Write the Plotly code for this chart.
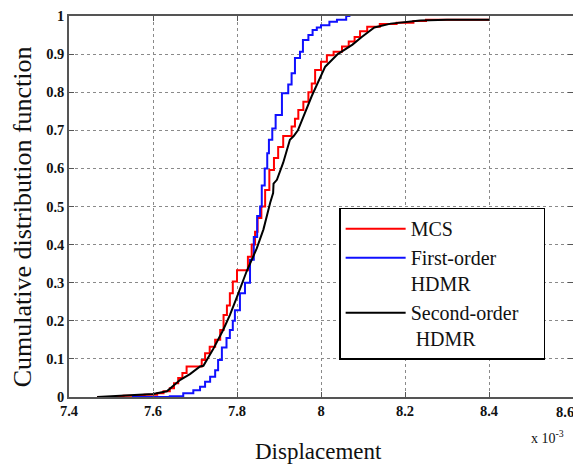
import plotly.graph_objects as go

# Displacement values are in units of 1e-3
mcs_x = [7.467, 7.53, 7.58, 7.61, 7.625, 7.64, 7.65, 7.66, 7.67, 7.68, 7.716, 7.724, 7.735,
         7.748, 7.76, 7.768, 7.776, 7.783, 7.79, 7.80, 7.826, 7.835, 7.843, 7.849, 7.858,
         7.867, 7.877, 7.888, 7.898, 7.91, 7.93, 7.938, 7.946, 7.958, 7.97, 7.978, 7.986,
         8.0, 8.014, 8.03, 8.05, 8.066, 8.08, 8.093, 8.11, 8.14, 8.18, 8.22, 8.25, 8.40]
mcs_cdf = [0.0, 0.003, 0.006, 0.010, 0.015, 0.023, 0.036, 0.050, 0.063, 0.080, 0.097, 0.115,
           0.132, 0.150, 0.176, 0.215, 0.240, 0.272, 0.303, 0.333, 0.368, 0.400, 0.434, 0.470,
           0.500, 0.543, 0.596, 0.627, 0.656, 0.685, 0.710, 0.730, 0.753, 0.775, 0.800, 0.823,
           0.858, 0.880, 0.897, 0.906, 0.920, 0.933, 0.945, 0.960, 0.972, 0.979, 0.982, 0.987,
           0.990, 0.990]

first_x = [7.55, 7.64, 7.672, 7.696, 7.712, 7.724, 7.736, 7.748, 7.755, 7.764, 7.775, 7.783,
           7.79, 7.795, 7.807, 7.819, 7.831, 7.84, 7.848, 7.855, 7.859, 7.866, 7.872, 7.876,
           7.884, 7.892, 7.907, 7.922, 7.93, 7.938, 7.95, 7.957, 7.97, 7.98, 7.99, 8.0, 8.02,
           8.038, 8.06, 8.07]
first_cdf = [0.0, 0.002, 0.010, 0.018, 0.027, 0.040, 0.053, 0.070, 0.097, 0.130, 0.155, 0.176,
             0.200, 0.228, 0.272, 0.300, 0.360, 0.420, 0.475, 0.500, 0.555, 0.600, 0.640, 0.675,
             0.705, 0.740, 0.797, 0.820, 0.850, 0.890, 0.906, 0.937, 0.950, 0.963, 0.970, 0.976,
             0.985, 0.990, 1.0, 1.0]

second_x = [7.467, 7.552, 7.60, 7.633, 7.648, 7.665, 7.688, 7.704, 7.712, 7.72, 7.743, 7.767,
            7.783, 7.80, 7.823, 7.847, 7.863, 7.879, 7.886, 7.887, 7.895, 7.91, 7.926, 7.935,
            7.945, 7.978, 7.995, 8.01, 8.04, 8.075, 8.097, 8.127, 8.166, 8.236, 8.30, 8.40]
second_cdf = [0.0, 0.004, 0.008, 0.015, 0.030, 0.045, 0.060, 0.075, 0.080, 0.082, 0.125, 0.176,
              0.215, 0.263, 0.330, 0.390, 0.440, 0.510, 0.535, 0.560, 0.570, 0.615, 0.675, 0.685,
              0.700, 0.790, 0.830, 0.867, 0.900, 0.925, 0.945, 0.970, 0.980, 0.988, 0.990, 0.990]

x_ticks = [7.4, 7.6, 7.8, 8.0, 8.2, 8.4, 8.6]
x_tick_labels = ["7.4", "7.6", "7.8", "8", "8.2", "8.4", "8.6"]
y_ticks = [0, 0.1, 0.2, 0.3, 0.4, 0.5, 0.6, 0.7, 0.8, 0.9, 1]
y_tick_labels = ["0", "0.1", "0.2", "0.3", "0.4", "0.5", "0.6", "0.7", "0.8", "0.9", "1"]

FONT = "Liberation Serif, Times New Roman, serif"
TICKFONT = dict(family=FONT, size=14.5, color="#111111", weight="bold")

fig = go.Figure()
fig.add_trace(go.Scatter(x=mcs_x, y=mcs_cdf, mode="lines", line=dict(color="#ff0000", width=2, shape="hv"),
                         name="MCS"))
fig.add_trace(go.Scatter(x=first_x, y=first_cdf, mode="lines", line=dict(color="#1010ff", width=2, shape="hv"),
                         name="First-order<br>HDMR"))
fig.add_trace(go.Scatter(x=second_x, y=second_cdf, mode="lines", line=dict(color="#000000", width=2),
                         name="Second-order&nbsp;&nbsp;&nbsp;&nbsp;<br>&nbsp;HDMR"))

axis_common = dict(
    showline=True, linecolor="#555555", linewidth=1.5, mirror="ticks",
    ticks="inside", ticklen=5, tickcolor="#555555",
    showgrid=True, gridcolor="#8a8a8a", griddash="dot", gridwidth=1,
    zeroline=False, automargin=False, ticklabeloverflow="allow",
    tickfont=TICKFONT,
)

# last x tick label sits at the right page edge; it is drawn as an annotation so it stays whole
x_axis_text = x_tick_labels[:-1] + [""]
fig.update_xaxes(range=[7.4, 8.6], tickvals=x_ticks, ticktext=x_axis_text, **axis_common)
fig.update_yaxes(range=[0, 1], tickvals=y_ticks, ticktext=y_tick_labels, **axis_common)

fig.add_annotation(xref="x", yref="paper", x=x_ticks[-1], y=0, xanchor="right", yanchor="top",
                   xshift=3, yshift=-5, text=x_tick_labels[-1], showarrow=False, font=TICKFONT)
fig.add_annotation(xref="paper", yref="paper", x=0.496, y=-0.142, xanchor="center", yanchor="middle",
                   text="Displacement", showarrow=False, font=dict(family=FONT, size=23, color="#111111"))
fig.add_annotation(xref="paper", yref="paper", x=-0.093, y=0.472, xanchor="center", yanchor="middle",
                   text="Cumulative distribution function", textangle=-90, showarrow=False,
                   font=dict(family=FONT, size=26, color="#111111"))
fig.add_annotation(xref="paper", yref="paper", x=0.95, y=-0.075, xanchor="center", yanchor="top",
                   text="x 10<sup>-3</sup>", showarrow=False, font=dict(family=FONT, size=14, color="#111111"))

# page body has an 8px margin, so the figure is sized/offset to compensate
fig.update_layout(
    width=573, height=457,
    margin=dict(l=61, r=8, t=8, b=68),
    plot_bgcolor="white", paper_bgcolor="white",
    font=dict(family=FONT, color="#111111"),
    showlegend=True,
    legend=dict(x=0.536, y=0.497, xanchor="left", yanchor="top",
                bgcolor="white", bordercolor="#000000", borderwidth=1.5,
                font=dict(family=FONT, size=20, color="#111111"),
                itemwidth=60, valign="top", tracegroupgap=0),
)

fig.write_html("out.html")
